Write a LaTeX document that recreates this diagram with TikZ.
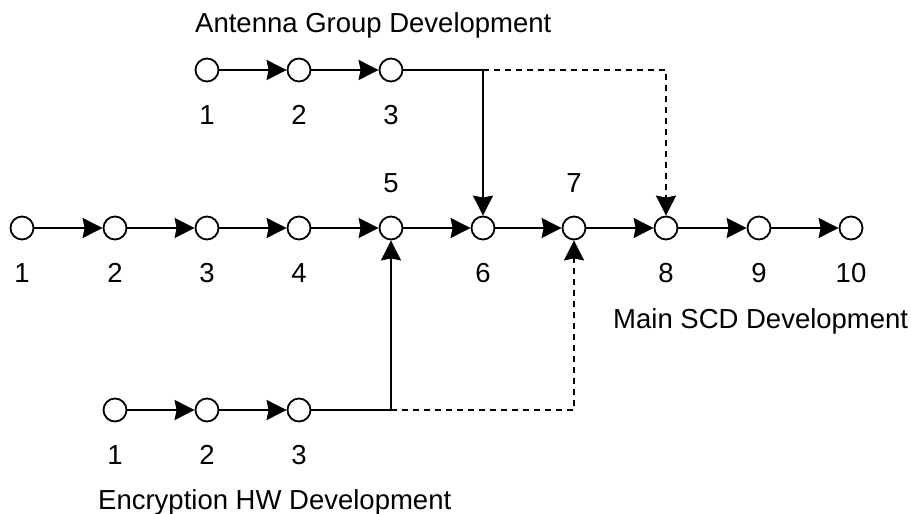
\documentclass[tikz,border=0pt]{standalone}
\usepackage{fontspec}
\setmainfont{Liberation Sans}
\usetikzlibrary{arrows.meta,positioning}

\begin{document}
\begin{tikzpicture}[x=1pt, y=-1pt,
        ev/.style={draw, circle, line width=1.8pt, minimum size=23pt, inner sep=0pt},
        num/.style={font=\fontsize{27.5}{32}\selectfont},
        ttl/.style={font=\fontsize{27.5}{32}\selectfont, inner sep=0pt, anchor=base west},
        flow/.style={line width=1.8pt, -{Stealth[length=20pt, width=20pt, inset=2pt]}},
        later/.style={dash pattern=on 6pt off 5pt},
        node distance=45pt, on grid]
        \useasboundingbox (0,0) rectangle (911,514);
        % main line
        \foreach \i/\x in {1/22,2/115,3/207,4/299,5/391,6/483,7/574,8/666,9/759,10/851} {
            \node[ev] (m\i) at (\x,228) {};
        }
        \foreach \i in {1,...,9} {
            \pgfmathtruncatemacro{\j}{\i+1}
            \draw[flow] (m\i) -- (m\j);
        }
        \foreach \i in {1,2,3,4,6,8,9,10} {
            \node[num] (n\i) [below=of m\i] {\i};
        }
        \foreach \i in {5,7} {
            \node[num] (n\i) [above=of m\i] {\i};
        }
        % antenna group
        \foreach \i/\x in {1/207,2/299,3/391} {
            \node[ev] (a\i) at (\x,70) {};
            \node[num] (na\i) [below=of a\i] {\i};
        }
        \draw[flow] (a1) -- (a2);
        \draw[flow] (a2) -- (a3);
        % encryption hw
        \foreach \i/\x in {1/115,2/207,3/299} {
            \node[ev] (e\i) at (\x,410) {};
            \node[num] (ne\i) [below=of e\i] {\i};
        }
        \draw[flow] (e1) -- (e2);
        \draw[flow] (e2) -- (e3);
        % links into the main line
        \draw[flow] (a3) -- (a3 -| m6) -- (m6);
        \draw[flow, later] (a3 -| m6) -- (a3 -| m8) -- (m8);
        \draw[flow] (e3) -- (e3 -| m5) -- (m5);
        \draw[flow, later] (e3 -| m5) -- (e3 -| m7) -- (m7);
        % titles
        \node[ttl] (tA) at (195,32) {Antenna Group Development};
        \node[ttl] (tM) at (613,328) {Main SCD Development};
        \node[ttl] (tE) at (98,509) {Encryption HW Development};
\end{tikzpicture}
\end{document}
